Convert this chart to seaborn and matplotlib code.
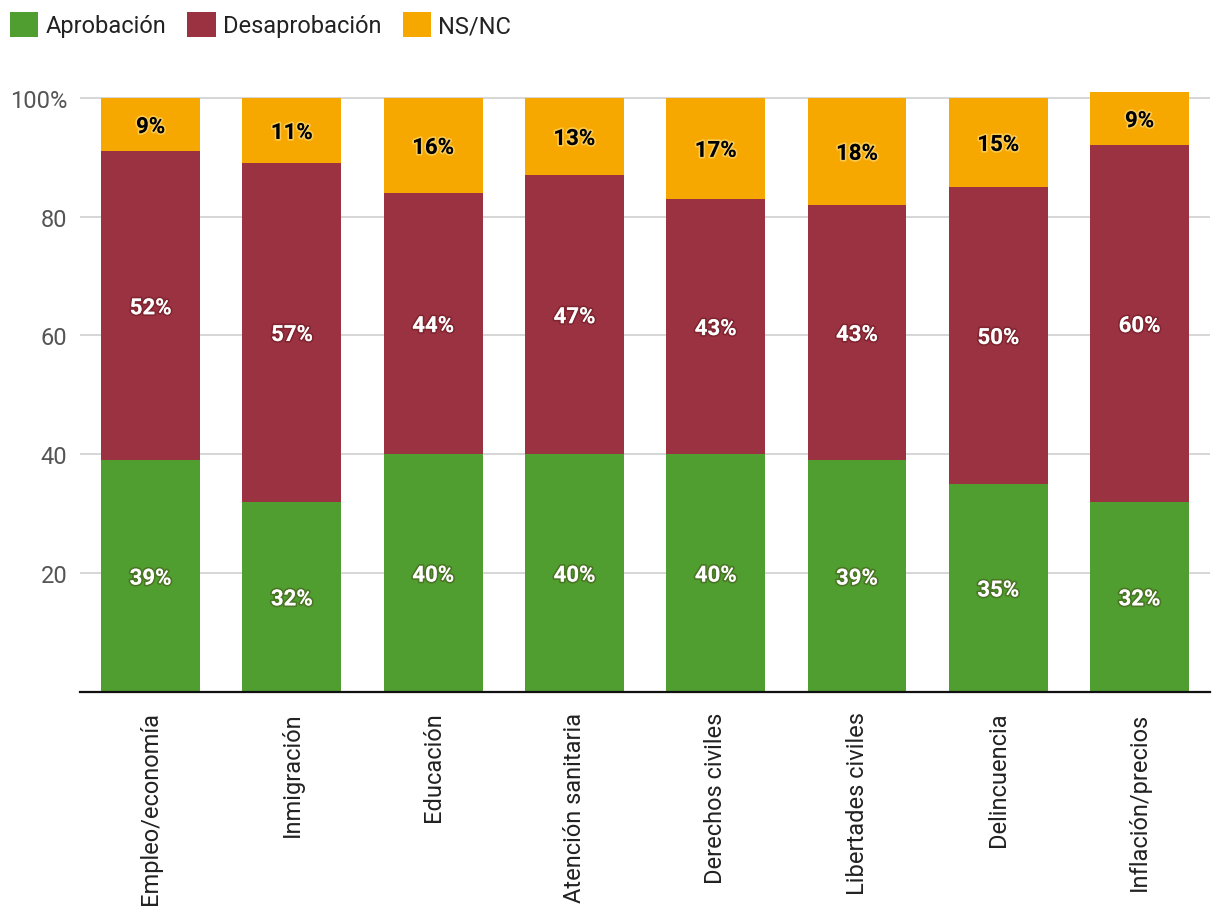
import matplotlib
matplotlib.use("Agg")
import matplotlib.pyplot as plt
import matplotlib.patheffects as pe
from matplotlib.patches import Patch
import seaborn as sns
import pandas as pd

# Datos
categorias = ["Empleo/economía", "Inmigración", "Educación", "Atención sanitaria",
              "Derechos civiles", "Libertades civiles", "Delincuencia", "Inflación/precios"]
aprobacion = [39, 32, 40, 40, 40, 39, 35, 32]
desaprobacion = [52, 57, 44, 47, 43, 43, 50, 60]
ns_nc = [9, 11, 16, 13, 17, 18, 15, 9]
series = ["Aprobación", "Desaprobación", "NS/NC"]
colores = ["#509E30", "#9B3241", "#F7A800"]
yticks = [20, 40, 60, 80, 100]
ytick_labels = ["20", "40", "60", "80", "100%"]

df = pd.DataFrame({
    "categoria": categorias,
    "Aprobación": aprobacion,
    "Desaprobación": desaprobacion,
    "NS/NC": ns_nc,
})
# acumulados para el apilado
df["c1"] = df["Aprobación"]
df["c2"] = df["c1"] + df["Desaprobación"]
df["c3"] = df["c2"] + df["NS/NC"]

sns.set_style("white")
plt.rcParams["font.family"] = ["Roboto", "DejaVu Sans"]

fig = plt.figure(figsize=(12.2, 9.2), dpi=100)
ax = fig.add_axes([0.0656, 0.2468, 0.9264, 0.6587])

# barras apiladas: se dibuja de arriba hacia abajo
for col, color in zip(["c3", "c2", "c1"], colores[::-1]):
    sns.barplot(data=df, x="categoria", y=col, color=color, width=0.7,
                saturation=1, ax=ax, zorder=2, linewidth=0)

ax.set_xlim(-0.5, 7.5)
ax.set_ylim(0, 102)
ax.set_yticks(yticks)
ax.set_yticklabels(ytick_labels)
ax.yaxis.grid(True, color="#CCCCCC", linewidth=1.1, zorder=0)
ax.set_axisbelow(True)
ax.set_xlabel("")
ax.set_ylabel("")
ax.tick_params(axis="y", length=0, pad=9, labelsize=17, labelcolor="#555555")
ax.tick_params(axis="x", length=0, pad=14, labelsize=17, labelcolor="#222222")
plt.setp(ax.get_xticklabels(), rotation=90, va="top", ha="center")
for s in ["top", "right", "left"]:
    ax.spines[s].set_visible(False)
ax.spines["bottom"].set_color("#111111")
ax.spines["bottom"].set_linewidth(1.6)
ax.spines["bottom"].set_zorder(5)

# etiquetas de valores
sombra_osc = [pe.withStroke(linewidth=2.5, foreground=(0.2, 0, 0, 0.25))]
sombra_clara = [pe.withStroke(linewidth=2.5, foreground=(1, 0.95, 0.7, 0.45))]
for i, row in df.iterrows():
    segs = [(0, row["c1"], row["Aprobación"], "white", sombra_osc),
            (row["c1"], row["c2"], row["Desaprobación"], "white", sombra_osc),
            (row["c2"], row["c3"], row["NS/NC"], "black", sombra_clara)]
    for lo, hi, v, tc, efx in segs:
        ax.text(i, (lo + hi) / 2, f"{v}%", ha="center", va="center_baseline",
                fontsize=16, fontweight="bold", color=tc, path_effects=efx, zorder=6)

# leyenda
handles = [Patch(facecolor=c, edgecolor="none", label=s) for s, c in zip(series, colores)]
fig.legend(handles=handles, loc="upper left", bbox_to_anchor=(10 / 1220, 1 - 13 / 920),
           ncol=3, frameon=False, fontsize=17, handlelength=1.2, handleheight=1.25,
           handletextpad=0.3, columnspacing=0.9, borderpad=0, borderaxespad=0,
           labelcolor="#222222")

fig.savefig("out.png", dpi=100)
